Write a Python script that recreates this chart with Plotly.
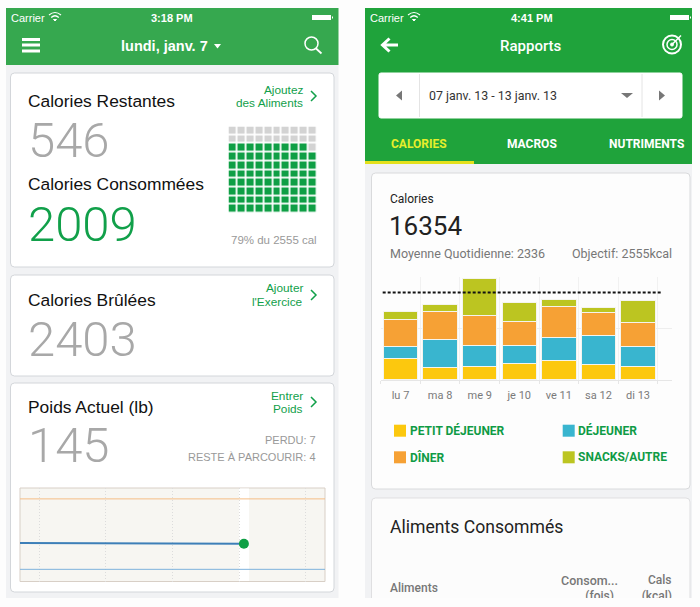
import plotly.graph_objects as go

W, H = 700, 607

# stacked calories per day (kcal)
days = ["lu 7", "ma 8", "me 9", "je 10", "ve 11", "sa 12", "di 13"]
breakfast = [620, 360, 390, 480, 575, 440, 390]
lunch = [345, 810, 605, 515, 675, 860, 575]
dinner = [790, 830, 885, 710, 895, 675, 730]
snacks = [254, 215, 1075, 565, 195, 145, 625]
goal_line = 2555
meal_names = ["PETIT DÉJEUNER", "DÉJEUNER", "DÎNER", "SNACKS/AUTRE"]
meal_colors = ["#fcc80e", "#39b5cf", "#f6a135", "#bcc521"]

# waffle: percent of the daily calories eaten
waffle_pct = 79

# weight chart
weight_weeks = [-0.285, 3.07]
weight_lb = [145.1, 145]
start_lb = 152
goal_lb = 141

GREEN_L = "#36a84f"
GREEN_R = "#1fa33b"
GREEN_TXT = "#11a04a"
BIG_GRAY = "#a8a8a8"
SANS = "Liberation Sans"
ROBOTO = "Roboto"

shapes = []
notes = []


def rect(x0, y0, x1, y1, fill, line=None, lw=1):
    shapes.append(dict(type="rect", x0=x0, y0=y0, x1=x1, y1=y1, fillcolor=fill,
                       line=dict(color=line or fill, width=lw if line else 0),
                       xref="x", yref="y", layer="below"))


def card(x0, y0, x1, y1, fill="white", line="#d3d6da", r=4):
    p = (f"M{x0 + r},{y0} L{x1 - r},{y0} Q{x1},{y0} {x1},{y0 + r} L{x1},{y1 - r} Q{x1},{y1} {x1 - r},{y1} "
         f"L{x0 + r},{y1} Q{x0},{y1} {x0},{y1 - r} L{x0},{y0 + r} Q{x0},{y0} {x0 + r},{y0} Z")
    shapes.append(dict(type="path", path=p, fillcolor=fill, line=dict(color=line, width=1),
                       xref="x", yref="y", layer="below"))


def path(p, color, width=0, fill=None):
    shapes.append(dict(type="path", path=p, fillcolor=fill or "rgba(0,0,0,0)",
                       line=dict(color=color, width=width), xref="x", yref="y", layer="below"))


def circle(cx, cy, r, color, width=1.5, fill=None):
    shapes.append(dict(type="circle", x0=cx - r, x1=cx + r, y0=cy - r, y1=cy + r,
                       fillcolor=fill or "rgba(0,0,0,0)", line=dict(color=color, width=width),
                       xref="x", yref="y", layer="below"))


def label(x, y, s, size, color, anchor="left", family=SANS, weight=400):
    notes.append(dict(x=x, y=y, text=s, xref="x", yref="y", xanchor=anchor, yanchor="middle",
                      showarrow=False, borderpad=0, borderwidth=0,
                      font=dict(size=size, color=color, family=family, weight=weight)))


def chevron(x, y):
    path(f"M{x},{y - 5} L{x + 5},{y} L{x},{y + 5}", GREEN_TXT, 1.5)


def wifi(x, y):
    path(f"M{x},{y} Q{x + 6},{y - 5} {x + 12},{y}", "white", 1.2)
    path(f"M{x + 2.2},{y + 2.5} Q{x + 6},{y - 1} {x + 9.8},{y + 2.5}", "white", 1.2)
    path(f"M{x + 4.5},{y + 4.5} L{x + 6},{y + 6} L{x + 7.5},{y + 4.5} Z", "white", 1, "white")


# page panels
rect(6, 65, 338.5, 598, "#f1f2f4")
rect(365, 164, 692, 598, "#f1f2f4")
rect(6, 8, 338.5, 65, GREEN_L)
rect(365, 8, 692, 164, GREEN_R)
rect(365, 161, 474, 164, "#e4e01c")

# left status bar and header
label(11, 17.5, "Carrier", 11, "white")
wifi(49, 15)
label(172, 17.5, "3:18 PM", 11, "white", "center", weight=700)
rect(312, 15, 331, 20, "white")
rect(332, 16.5, 333, 18.5, "white")
for yy in (39.5, 45, 51):
    path(f"M22,{yy} L40,{yy}", "white", 3)
label(164.5, 46, "lundi, janv. 7", 14.5, "white", "center", weight=700)
path("M214,44 L221,44 L217.5,48.5 Z", "white", 0, "white")
circle(311.5, 43.5, 6.5, "white", 1.5)
path("M316,48.5 L321.5,53.5", "white", 1.8)

# left cards
card(10.5, 73, 334, 267)
card(10.5, 275, 334, 376)
card(10.5, 383, 334, 592)

label(28, 101, "Calories Restantes", 17.4, "#111")
label(27.5, 140, "546", 49, BIG_GRAY, family=ROBOTO, weight=300)
label(28, 184, "Calories Consommées", 17.4, "#111")
label(27.5, 224, "2009", 49, GREEN_TXT, family=ROBOTO, weight=300)
label(303, 89.5, "Ajoutez", 11.8, GREEN_TXT, "right")
label(303, 103, "des Aliments", 11.8, GREEN_TXT, "right")
chevron(311, 96)
label(316.5, 240, "79% du 2555 cal", 11.5, "#999", "right")

label(28, 300, "Calories Brûlées", 17.4, "#111")
label(27.5, 339, "2403", 49, BIG_GRAY, family=ROBOTO, weight=300)
label(303, 288, "Ajouter", 11.8, GREEN_TXT, "right")
label(303, 302, "l'Exercice", 11.8, GREEN_TXT, "right")
chevron(311, 295)

label(28, 407, "Poids Actuel (lb)", 17.4, "#111")
label(27.5, 445, "145", 49, BIG_GRAY, family=ROBOTO, weight=300)
label(303, 396, "Entrer", 11.8, GREEN_TXT, "right")
label(303, 409, "Poids", 11.8, GREEN_TXT, "right")
chevron(311, 402)
label(316, 440, "PERDU: 7", 11, "#999", "right")
label(316, 457, "RESTE À PARCOURIR: 4", 11, "#999", "right")

# weight chart background
rect(20, 488, 325, 581.5, "#f7f6f2", "#d8cfc6", 1)
rect(239, 488.5, 249, 581, "white")

# right status bar and header
label(370, 17.5, "Carrier", 11, "white")
wifi(408, 15)
label(532, 17.5, "4:41 PM", 11, "white", "center", weight=700)
rect(670, 15, 689, 20, "white")
rect(690, 16.5, 691, 18.5, "white")
path("M398,45 L383,45 M389.5,38.5 L382.5,45 L389.5,51.5", "white", 3)
label(531, 45.5, "Rapports", 15, "white", "center", ROBOTO, 500)
circle(672, 44.5, 9, "white", 2)
circle(672, 44.5, 5, "white", 1.5)
circle(672, 44.5, 1.5, "white", 1, "white")
path("M672,44.5 L681,35.5", "white", 1.5)

# date picker
card(379, 73, 682, 118, "white", "#ffffff", 2)
path("M419.5,74 L419.5,117", "#e4e4e4", 1)
path("M642,74 L642,117", "#e4e4e4", 1)
path("M402,90.5 L402,100.5 L396,95.5 Z", "#777", 0, "#777")
path("M621,93 L633,93 L627,98 Z", "#777", 0, "#777")
path("M659,90.5 L659,100.5 L665,95.5 Z", "#777", 0, "#777")
label(429, 95, "07 janv. 13 - 13 janv. 13", 12.4, "#333", family=ROBOTO)

label(419, 143.5, "CALORIES", 12, "#e6ee2c", "center", ROBOTO, 700)
label(532, 143.5, "MACROS", 12, "white", "center", ROBOTO, 700)
label(646, 143.5, "NUTRIMENTS", 12, "white", "center", ROBOTO, 700)

# right cards
card(371.5, 173, 690, 489, "#fdfdfd", "#d9dadc")
card(371.5, 498, 690, 620, "#fcfcfc", "#dfdfe1")

label(389.5, 198.5, "Calories", 12, "#222", family=ROBOTO, weight=400)
label(388.5, 226, "16354", 26, "#222", family=ROBOTO)
label(389.5, 253.5, "Moyenne Quotidienne: 2336", 12.5, "#777", family=ROBOTO)
label(672, 253.5, "Objectif: 2555kcal", 12.5, "#777", "right", ROBOTO)

# legend swatches and names
legend_pos = [(394, 430.7), (562.7, 430.7), (394, 457.3), (562.7, 457.3)]
for (lx, ly), name, col in zip(legend_pos, meal_names, meal_colors):
    rect(lx, ly - 6, lx + 12, ly + 6, col)
    label(lx + 15.5, ly, name, 12, "#0f9b45", family=ROBOTO, weight=700)

label(389.5, 526.7, "Aliments Consommés", 17.6, "#222", family=ROBOTO)
label(389.5, 588, "Aliments", 12, "#777", family=ROBOTO, weight=500)
label(618, 580, "Consom...", 12.5, "#777", "right", ROBOTO, 500)
label(672, 580, "Cals", 12, "#777", "right", ROBOTO, 500)

fig = go.Figure()

# text cut off by the bottom of the screen, kept as a clipped trace on the page axes
fig.add_trace(go.Scatter(x=[614, 672], y=[596.5, 596.5], mode="text", text=["(fois)", "(kcal)"],
                         textposition="middle left", cliponaxis=True, showlegend=False,
                         textfont=dict(size=12, color="#777", family=ROBOTO, weight=500),
                         xaxis="x", yaxis="y"))

# stacked bars
for name, vals, col in zip(meal_names, [breakfast, lunch, dinner, snacks], meal_colors):
    fig.add_trace(go.Bar(x=list(range(len(days))), y=vals, name=name, marker_color=col,
                         marker_line=dict(color="#f4f4ee", width=1), width=0.87,
                         showlegend=False, xaxis="x2", yaxis="y2"))
fig.add_trace(go.Scatter(x=[-0.45, 6.6], y=[goal_line, goal_line], mode="lines", showlegend=False,
                         line=dict(color="#111", width=2, dash="3px,2px"), xaxis="x2", yaxis="y2"))

# waffle, row 0 at the bottom
waffle_z = [[1 if r * 10 + c < waffle_pct else 0 for c in range(10)] for r in range(10)]
fig.add_trace(go.Heatmap(z=waffle_z, xgap=1.8, ygap=1.8, showscale=False, zmin=0, zmax=1,
                         colorscale=[[0, "#d3d3d3"], [1, "#0f9f45"]], xaxis="x3", yaxis="y3"))

# weight
fig.add_trace(go.Scatter(x=[-0.285, 4.285], y=[start_lb, start_lb], mode="lines", showlegend=False,
                         line=dict(color="#f5bd85", width=1), xaxis="x4", yaxis="y4"))
fig.add_trace(go.Scatter(x=[-0.285, 4.285], y=[goal_lb, goal_lb], mode="lines", showlegend=False,
                         line=dict(color="#7fb2dd", width=1), xaxis="x4", yaxis="y4"))
fig.add_trace(go.Scatter(x=weight_weeks, y=weight_lb, mode="lines", showlegend=False,
                         line=dict(color="#3d7fb8", width=2), xaxis="x4", yaxis="y4"))
fig.add_trace(go.Scatter(x=weight_weeks[-1:], y=weight_lb[-1:], mode="markers", showlegend=False,
                         marker=dict(size=10, color="#0f9f45", line=dict(width=0)),
                         xaxis="x4", yaxis="y4", cliponaxis=False))

hidden = dict(visible=False, showgrid=False, zeroline=False, fixedrange=True)
fig.update_layout(
    width=W, height=H, margin=dict(l=0, r=0, t=0, b=0), autosize=False,
    paper_bgcolor="#fdfdfd", plot_bgcolor="rgba(0,0,0,0)",
    barmode="stack", bargap=0.13, showlegend=False, hovermode=False,
    shapes=shapes, annotations=notes,
    # page axes in screen pixels, ending where the phone screens end
    xaxis=dict(domain=[0, 1], range=[0, W], **hidden),
    yaxis=dict(domain=[(H - 598) / H, 1], range=[598, 0], **hidden),
    xaxis2=dict(domain=[380.7 / W, 671.7 / W], range=[-0.5, 6.85], anchor="y2", tickmode="array",
                tickvals=list(range(len(days))), ticktext=days, ticks="", showgrid=False,
                zeroline=False, showline=True, linecolor="#e6e6e6", fixedrange=True,
                ticklabelstandoff=5,
                tickfont=dict(size=11, color="#7a7a7a", family=ROBOTO),
                minor=dict(tickmode="array", tickvals=[i - 0.5 for i in range(8)], showgrid=True,
                           gridcolor="#f1f1f1", gridwidth=1, ticks="outside", ticklen=3, tickcolor="#e6e6e6")),
    yaxis2=dict(domain=[(H - 380) / H, (H - 277.4) / H], range=[0, 3000], anchor="x2",
                tickvals=[0, 1500, 3000], showticklabels=False, gridcolor="#eeeeee", gridwidth=1,
                zeroline=False, fixedrange=True),
    xaxis3=dict(domain=[228.5 / W, 317.5 / W], anchor="y3", **hidden),
    yaxis3=dict(domain=[(H - 213.5) / H, (H - 126.5) / H], anchor="x3", **hidden),
    xaxis4=dict(domain=[20 / W, 325 / W], range=[-0.285, 4.285], anchor="y4", visible=True,
                tickvals=[0, 1, 2, 3, 4], showticklabels=False, ticks="", showgrid=True,
                gridcolor="#dcdcdc", griddash="1px,2px", gridwidth=1, zeroline=False, fixedrange=True),
    yaxis4=dict(domain=[(H - 581.5) / H, (H - 488) / H], range=[139.1, 153.7], anchor="x4",
                visible=False, showgrid=False, zeroline=False, fixedrange=True),
)

fig.write_html("out.html", config={"displayModeBar": False}, post_script="document.body.style.margin='0';")
